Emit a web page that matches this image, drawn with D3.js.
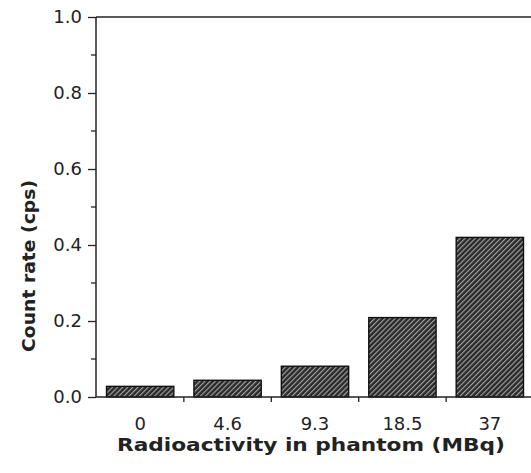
<!DOCTYPE html>
<html>
<head>
<meta charset="utf-8">
<script src="https://cdn.jsdelivr.net/npm/d3@7"></script>
<style>
  body { margin: 0; background: #fff; }
  text { font-family: "DejaVu Sans", sans-serif; fill: #222; }
</style>
</head>
<body>
<div id="draw"></div>
<script>
let W = 531, H = 473;
let categories = ['0', '4.6', '9.3', '18.5', '37'];
let countRate = [0.028, 0.044, 0.081, 0.209, 0.42];
let yTicks = [0, 0.2, 0.4, 0.6, 0.8, 1.0];
let yMinor = [0.1, 0.3, 0.5, 0.7, 0.9];

let plotL = 96, plotT = 17, plotB = 397, plotR = 534;

let svg = d3.select('#draw').append('svg').attr('width', W).attr('height', H);

// hatch pattern for bars
let pat = svg.append('defs').append('pattern')
  .attr('id', 'hatch')
  .attr('patternUnits', 'userSpaceOnUse')
  .attr('width', 3.6).attr('height', 3.6)
  .attr('patternTransform', 'rotate(45)');
pat.append('rect').attr('width', 3.6).attr('height', 3.6).attr('fill', '#2a2a2a');
pat.append('line').attr('x1', 0.6).attr('y1', 0).attr('x2', 0.6).attr('y2', 3.6)
  .attr('stroke', '#b4b4b4').attr('stroke-width', 1);

let x = d3.scaleBand().domain(categories).range([plotL, plotR]).paddingInner(0.23).paddingOuter(0.12);
let y = d3.scaleLinear().domain([0, 1]).range([plotB, plotT]);

// bars
svg.append('g').selectAll('rect').data(countRate).join('rect')
  .attr('x', (d, i) => x(categories[i]))
  .attr('y', d => y(d))
  .attr('width', x.bandwidth())
  .attr('height', d => y(0) - y(d))
  .attr('fill', 'url(#hatch)')
  .attr('stroke', '#111')
  .attr('stroke-width', 1.4);

// y axis
let yAxis = svg.append('g').attr('transform', `translate(${plotL},0)`)
  .call(d3.axisLeft(y).tickValues(yTicks).tickFormat(d3.format('.1f')).tickSize(8).tickPadding(6));
yAxis.select('.domain').attr('d', `M0,${plotT}V${plotB}`).attr('stroke', '#222').attr('stroke-width', 1.5);
yAxis.selectAll('.tick line').attr('stroke', '#222').attr('stroke-width', 1.3);
yAxis.selectAll('.tick text').attr('font-size', 18).attr('font-family', '"DejaVu Sans", sans-serif').attr('fill', '#333');
yAxis.selectAll('.minor').data(yMinor).join('line').attr('class', 'minor')
  .attr('x1', -5).attr('x2', 0).attr('y1', d => y(d)).attr('y2', d => y(d))
  .attr('stroke', '#222').attr('stroke-width', 1.3);

// x axis with ticks between categories
let gap = (x.step() - x.bandwidth()) / 2;
let xAxis = svg.append('g').attr('transform', `translate(0,${plotB})`);
xAxis.append('line').attr('x1', plotL).attr('x2', W).attr('y1', 0).attr('y2', 0)
  .attr('stroke', '#222').attr('stroke-width', 1.5);
xAxis.selectAll('.sep').data(categories.slice(1)).join('line').attr('class', 'sep')
  .attr('x1', d => x(d) - gap)
  .attr('x2', d => x(d) - gap)
  .attr('y1', 0).attr('y2', 5)
  .attr('stroke', '#222').attr('stroke-width', 1.3);
xAxis.selectAll('.lbl').data(categories).join('text').attr('class', 'lbl')
  .attr('x', d => x(d) + x.bandwidth() / 2)
  .attr('y', 33)
  .attr('text-anchor', 'middle')
  .attr('font-size', 18)
  .attr('fill', '#333')
  .text(d => d);

// top frame line
svg.append('line').attr('x1', plotL).attr('x2', W).attr('y1', plotT).attr('y2', plotT)
  .attr('stroke', '#222').attr('stroke-width', 1.5);

// axis titles
svg.append('text')
  .attr('x', 311).attr('y', 451)
  .attr('text-anchor', 'middle')
  .attr('font-size', 18).attr('font-weight', 'bold')
  .attr('textLength', 388).attr('lengthAdjust', 'spacingAndGlyphs')
  .text('Radioactivity in phantom (MBq)');

svg.append('text')
  .attr('transform', 'translate(35,266) rotate(-90)')
  .attr('text-anchor', 'middle')
  .attr('font-size', 18).attr('font-weight', 'bold')
  .attr('textLength', 172).attr('lengthAdjust', 'spacingAndGlyphs')
  .text('Count rate (cps)');
</script>
</body>
</html>
